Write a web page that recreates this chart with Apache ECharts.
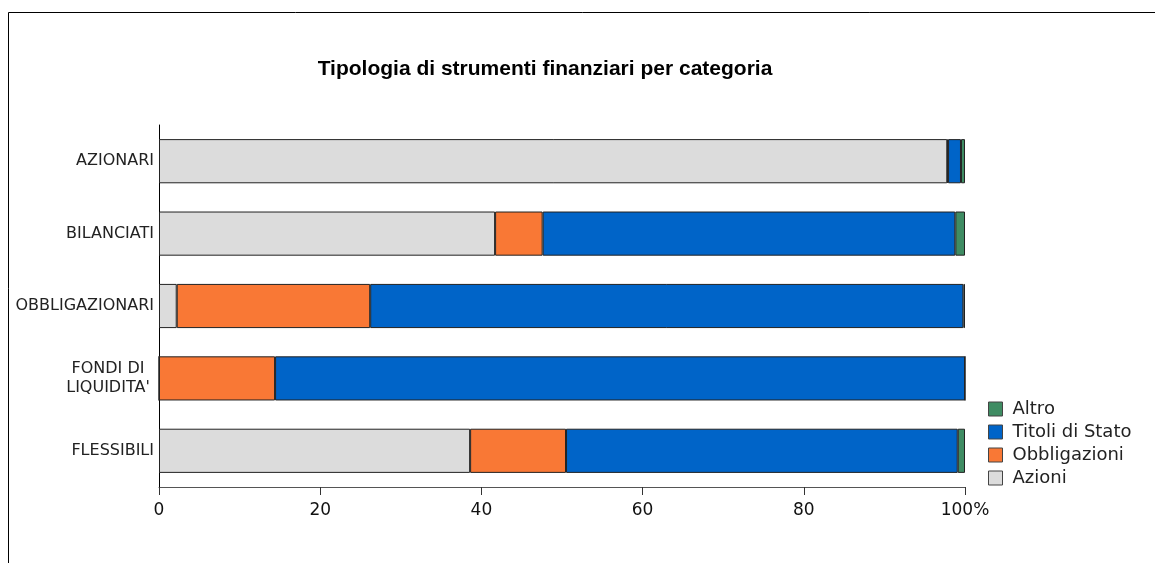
<!DOCTYPE html>
<html>
<head>
<meta charset="utf-8">
<script src="https://cdn.jsdelivr.net/npm/echarts@6/dist/echarts.min.js"></script>
<style>
  html, body { margin: 0; padding: 0; background: #fff; }
  #main { width: 1155px; height: 563px; }
</style>
</head>
<body>
<div id="main"></div>
<script>
// categorie (dall'alto in basso)
const categories = ['AZIONARI', 'BILANCIATI', 'OBBLIGAZIONARI', "FONDI DI\nLIQUIDITA'", 'FLESSIBILI'];

// percentuali
const azioni = [97.8, 41.7, 2.2, 0, 38.6];
const obbligazioni = [0.1, 5.9, 24.0, 14.4, 11.9];
const titoliDiStato = [1.6, 51.2, 73.6, 85.6, 48.6];
const altro = [0.5, 1.2, 0.2, 0, 0.9];

const xTicks = [0, 20, 40, 60, 80, 100];
const legendOrder = ['Altro', 'Titoli di Stato', 'Obbligazioni', 'Azioni'];

const chart = echarts.init(document.getElementById('main'));

function barSeries(name, data, color) {
  return {
    name: name,
    type: 'bar',
    stack: 'tot',
    data: data,
    barCategoryGap: '39%',
    itemStyle: {
      color: color,
      borderColor: '#222',
      borderWidth: 1
    },
    emphasis: { disabled: true }
  };
}

const option = {
  animation: false,
  backgroundColor: '#fff',
  title: {
    text: 'Tipologia di strumenti finanziari per categoria',
    left: 545,
    textAlign: 'center',
    top: 59,
    padding: 0,
    textStyle: {
      fontFamily: 'Liberation Sans',
      fontWeight: 'bold',
      fontSize: 21,
      color: '#000'
    }
  },
  legend: {
    data: legendOrder,
    orient: 'vertical',
    left: 988,
    top: 400,
    padding: 0,
    itemWidth: 14,
    itemHeight: 14,
    itemGap: 5,
    icon: 'rect',
    itemStyle: { borderColor: '#444', borderWidth: 1 },
    textStyle: {
      fontFamily: 'DejaVu Sans',
      fontSize: 18,
      lineHeight: 14,
      padding: [0, 0, 0, 5],
      color: '#222'
    }
  },
  grid: {
    left: 159,
    right: 190,
    top: 125,
    bottom: 76,
    containLabel: false
  },
  xAxis: {
    type: 'value',
    min: 0,
    max: 100,
    interval: 20,
    axisLine: { show: true, lineStyle: { color: '#555', width: 1 } },
    axisTick: { show: true, length: 8, lineStyle: { color: '#333' } },
    splitLine: { show: false },
    axisLabel: {
      margin: 15,
      fontFamily: 'DejaVu Sans',
      fontSize: 17,
      color: '#111',
      formatter: function (v) {
        return v === xTicks[xTicks.length - 1] ? v + '%' : String(v);
      }
    }
  },
  yAxis: {
    type: 'category',
    inverse: true,
    data: categories,
    axisLine: { show: true, lineStyle: { color: '#000', width: 1 } },
    axisTick: { show: false },
    axisLabel: {
      margin: 5,
      fontFamily: 'DejaVu Sans',
      fontSize: 16,
      color: '#222',
      formatter: function (v) {
        return v.indexOf('\n') >= 0
          ? v.split('\n').map(function (s) { return '{c|' + s + '}'; }).join('\n')
          : v;
      },
      rich: {
        c: {
          width: 92,
          align: 'center',
          lineHeight: 19,
          fontFamily: 'DejaVu Sans',
          fontSize: 16,
          color: '#222'
        }
      }
    }
  },
  series: [
    barSeries('Azioni', azioni, '#dcdcdc'),
    barSeries('Obbligazioni', obbligazioni, '#f97835'),
    barSeries('Titoli di Stato', titoliDiStato, '#0064c8'),
    barSeries('Altro', altro, '#3f8c63')
  ],
  graphic: [{
    type: 'rect',
    shape: { x: 8.5, y: 12.5, width: 1200, height: 600 },
    style: { fill: 'none', stroke: '#000', lineWidth: 1 },
    silent: true
  }]
};

chart.setOption(option);
</script>
</body>
</html>
